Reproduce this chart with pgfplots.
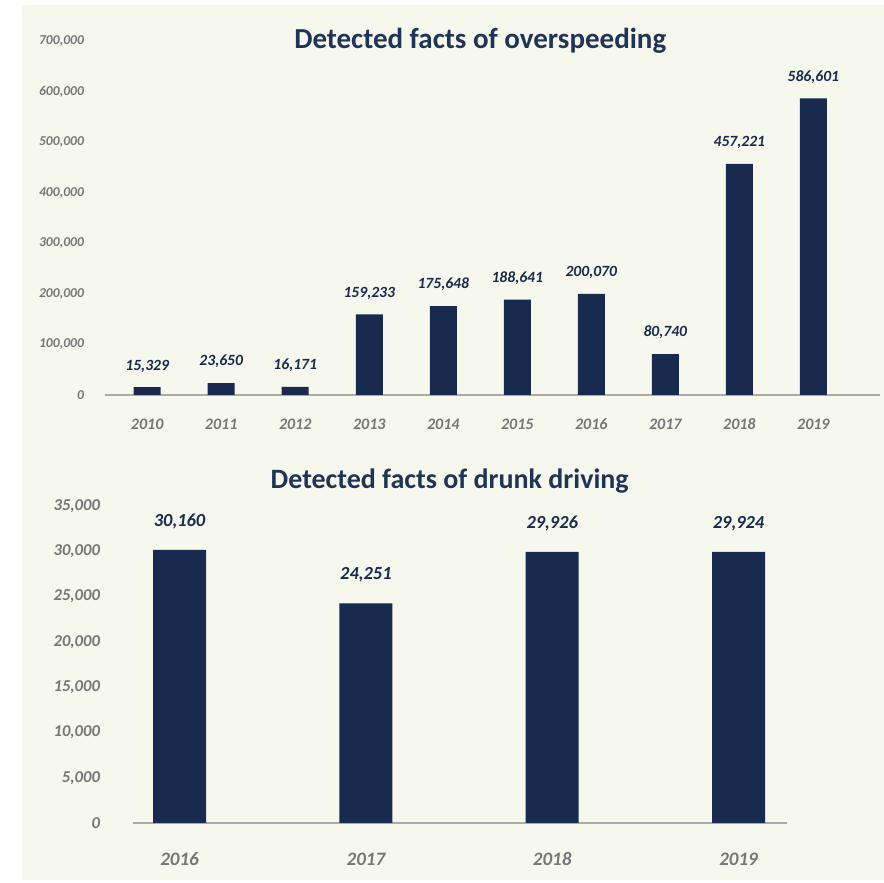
\documentclass[border=0pt]{standalone}
\usepackage{pgfplots}
\pgfplotsset{compat=1.18}
\usepackage{pgfplotstable}
\usepackage{fontspec}
\setmainfont{Carlito}
\definecolor{bg}{RGB}{246,248,238}
\definecolor{navy}{RGB}{24,42,78}
\definecolor{titlec}{RGB}{32,52,88}
\definecolor{tickc}{RGB}{118,118,118}
\definecolor{basec}{RGB}{170,170,170}
\pgfplotstableread{
x year value label
0 2010 15329 15,329
1 2011 23650 23,650
2 2012 16171 16,171
3 2013 159233 159,233
4 2014 175648 175,648
5 2015 188641 188,641
6 2016 200070 200,070
7 2017 80740 80,740
8 2018 457221 457,221
9 2019 586601 586,601
}\speeding
\pgfplotstableread{
x year value label
0 2016 30160 30,160
1 2017 24251 24,251
2 2018 29926 29,926
3 2019 29924 29,924
}\drunk
\begin{document}
\begin{tikzpicture}
\path[use as bounding box] (0,0) rectangle (442pt,441.5pt);
\fill[bg] (11pt,1.5pt) rectangle (442pt,439pt);
\pgfplotsset{
  myaxis/.style={
    scale only axis,
    axis x line*=bottom,
    axis y line*=left,
    x axis line style={basec, line width=0.8pt},
    y axis line style={draw=none},
    xtick style={draw=none},
    ytick style={draw=none},
    xtick=data,
    clip=false,
    scaled y ticks=false,
    yticklabel style={anchor=east},
    xticklabel style={text height=1.6ex, text depth=0.2ex},
  },
}
% top axis
\begin{axis}[myaxis,
  at={(52.5pt,244pt)}, anchor=south west,
  width=387.5pt, height=177pt,
  xmin=-0.57, xmax=9.9,
  ymin=0, ymax=700000,
  ytick={0,100000,200000,300000,400000,500000,600000,700000},
  yticklabels={0,100{,}000,200{,}000,300{,}000,400{,}000,500{,}000,600{,}000,700{,}000},
  xticklabels={2010,2011,2012,2013,2014,2015,2016,2017,2018,2019},
  x tick label style={font=\fontsize{8}{9}\selectfont\bfseries\itshape, text=tickc, yshift=-6pt},
  y tick label style={font=\fontsize{6.8}{8}\selectfont\bfseries\itshape, text=tickc, xshift=-7pt},
  point meta=explicit symbolic,
  nodes near coords,
  every node near coord/.append style={font=\fontsize{7.8}{9}\selectfont\bfseries\itshape, text=navy, yshift=4pt},
]
\addplot[ybar, bar width=13.5pt, fill=navy, draw=none] table[x=x, y=value, meta=label] {\speeding};
\node[font=\fontsize{14.5}{17}\selectfont\bfseries, text=titlec] at (axis cs:4.5,700000) {Detected facts of overspeeding};
\end{axis}
% bottom axis
\begin{axis}[myaxis,
  at={(66.5pt,30pt)}, anchor=south west,
  width=327pt, height=158.5pt,
  xmin=-0.25, xmax=3.26,
  ymin=0, ymax=35000,
  ytick={0,5000,10000,15000,20000,25000,30000,35000},
  yticklabels={0,5{,}000,10{,}000,15{,}000,20{,}000,25{,}000,30{,}000,35{,}000},
  xticklabels={2016,2017,2018,2019},
  x tick label style={font=\fontsize{9.5}{11}\selectfont\bfseries\itshape, text=tickc, yshift=-10pt},
  y tick label style={font=\fontsize{8.3}{10}\selectfont\bfseries\itshape, text=tickc, xshift=-13pt},
  point meta=explicit symbolic,
  nodes near coords,
  every node near coord/.append style={font=\fontsize{9.2}{11}\selectfont\bfseries\itshape, text=navy, yshift=7pt},
]
\addplot[ybar, bar width=26.5pt, fill=navy, draw=none] table[x=x, y=value, meta=label] {\drunk};
\node[font=\fontsize{14}{17}\selectfont\bfseries, text=titlec] at (axis cs:1.45,37800) {Detected facts of drunk driving};
\end{axis}
\end{tikzpicture}
\end{document}
